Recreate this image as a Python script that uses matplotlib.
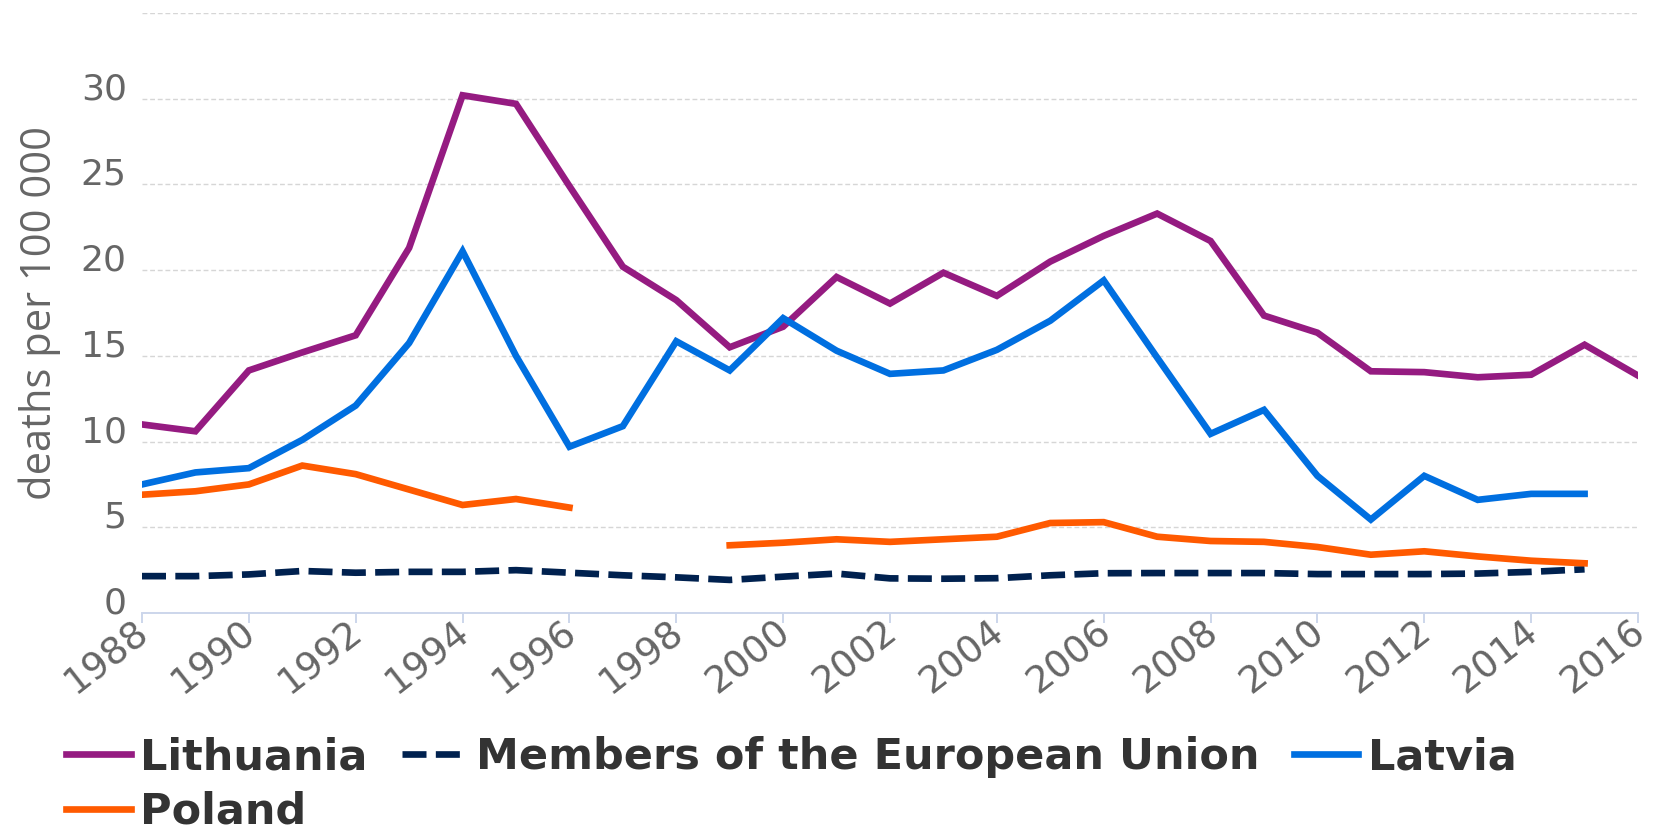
import numpy as np
import matplotlib
matplotlib.use("Agg")
import matplotlib.pyplot as plt
from matplotlib.transforms import ScaledTranslation

nan = np.nan
years = list(range(1988, 2017))

lithuania = [11.0, 10.6, 14.15, 15.2, 16.2, 21.3, 30.2, 29.7, 24.9, 20.2,
             18.25, 15.5, 16.7, 19.6, 18.05, 19.85, 18.5, 20.5, 22.0, 23.3,
             21.7, 17.35, 16.35, 14.1, 14.05, 13.75, 13.9, 15.65, 13.85]
eu_members = [2.15, 2.15, 2.25, 2.45, 2.35, 2.4, 2.4, 2.5, 2.35, 2.2,
              2.08, 1.93, 2.12, 2.3, 2.02, 2.0, 2.03, 2.2, 2.32, 2.33,
              2.33, 2.33, 2.27, 2.27, 2.27, 2.3, 2.4, 2.55, nan]
latvia = [7.5, 8.2, 8.45, 10.1, 12.1, 15.75, 21.1, 15.0, 9.7, 10.9,
          15.85, 14.15, 17.2, 15.3, 13.95, 14.15, 15.35, 17.05, 19.4, 14.9,
          10.45, 11.85, 8.0, 5.45, 8.0, 6.6, 6.95, 6.95, nan]
poland = [6.9, 7.1, 7.5, 8.6, 8.1, 7.2, 6.3, 6.65, 6.15, nan,
          nan, 3.95, 4.1, 4.3, 4.15, 4.3, 4.45, 5.25, 5.3, 4.45,
          4.2, 4.15, 3.85, 3.4, 3.6, 3.3, 3.05, 2.9, nan]

y_ticks = [0, 5, 10, 15, 20, 25, 30, 35]
y_labels = ["0", "5", "10", "15", "20", "25", "30", ""]
x_ticks = list(range(1988, 2017, 2))

fig = plt.figure(figsize=(16.54, 8.30), dpi=100)
ax = fig.add_axes([142 / 1654, 1 - 613 / 830, (1638 - 142) / 1654, 600 / 830])

lw = 4.8
l_lit, = ax.plot(years, lithuania, color="#951b81", lw=lw, label="Lithuania",
                 solid_joinstyle="miter", zorder=4)
l_eu, = ax.plot(years, eu_members, color="#00214f", lw=lw, label="Members of the European Union",
                dashes=(3.6, 1.4), dash_capstyle="butt", zorder=3)
l_lat, = ax.plot(years, latvia, color="#006fe0", lw=lw, label="Latvia",
                 solid_joinstyle="miter", zorder=4)
l_pol, = ax.plot(years, poland, color="#ff5a00", lw=lw, label="Poland",
                 solid_joinstyle="miter", zorder=4)

ax.set_xlim(1988, 2016)
ax.set_ylim(0, 35)
ax.set_yticks(y_ticks)
ax.set_yticklabels(y_labels)
ax.set_xticks(x_ticks)
ax.set_xticklabels([str(y) for y in x_ticks])

ax.grid(axis="y", color="#d6d6d6", lw=1.0, linestyle=(0, (3.5, 2)))
ax.set_axisbelow(True)
for s in ["left", "right", "top"]:
    ax.spines[s].set_visible(False)
ax.spines["bottom"].set_color("#ccd6eb")
ax.spines["bottom"].set_linewidth(1.4)
ax.spines["bottom"].set_zorder(5)

ax.tick_params(axis="y", length=0, pad=11, labelsize=26, labelcolor="#666666")
ax.tick_params(axis="x", length=7, width=1.4, color="#ccd6eb", pad=4,
               labelsize=27, labelcolor="#666666")

for lab in ax.get_yticklabels():
    lab.set_fontfamily("DejaVu Sans")
    lab.set_transform(lab.get_transform() + ScaledTranslation(0, 13 / 100, fig.dpi_scale_trans))
for lab in ax.get_xticklabels():
    lab.set_fontfamily("DejaVu Sans")
    lab.set_rotation(38)
    lab.set_rotation_mode("anchor")
    lab.set_ha("right")
    lab.set_va("center")
    lab.set_transform(lab.get_transform() + ScaledTranslation(3 / 100, 0, fig.dpi_scale_trans))

ax.set_ylabel("deaths per 100 000", fontsize=30, color="#666666",
              family=["Open Sans", "DejaVu Sans"])
ax.yaxis.set_label_coords(-0.054, 0.5)

leg = fig.legend([l_lit, l_pol, l_eu, l_lat],
                 ["Lithuania", "Poland", "Members of the European Union", "Latvia"],
                 ncol=3, loc="upper left", bbox_to_anchor=(66 / 1654, 1 - 736 / 830),
                 frameon=False, handlelength=1.5, handletextpad=0.22,
                 columnspacing=0.8, labelspacing=0.3, borderpad=0, borderaxespad=0,
                 prop={"family": "DejaVu Sans", "weight": "bold", "size": 31})
for t in leg.get_texts():
    t.set_color("#333333")

fig.savefig("out.png", dpi=100)
